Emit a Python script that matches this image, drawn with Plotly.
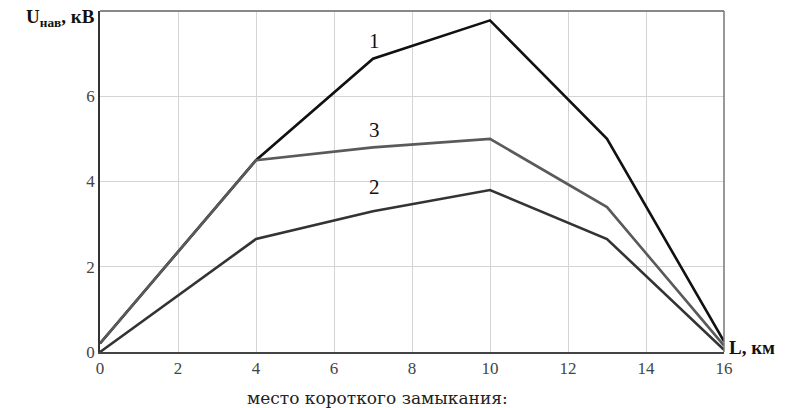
import plotly.graph_objects as go

x_km = [0, 4, 7, 10, 13, 16]
curve1 = [0.2, 4.5, 6.88, 7.78, 5.0, 0.25]
curve2 = [0.0, 2.65, 3.3, 3.8, 2.65, 0.05]
curve3 = [0.2, 4.5, 4.8, 5.0, 3.4, 0.15]
x_ticks = [0, 2, 4, 6, 8, 10, 12, 14, 16]
y_ticks = [0, 2, 4, 6]
labels = [("1", 7.05, 7.29), ("3", 7.05, 5.22), ("2", 7.05, 3.86)]

fig = go.Figure()
fig.add_trace(go.Scatter(x=x_km, y=curve1, mode="lines", line=dict(color="#111111", width=2.6), showlegend=False))
fig.add_trace(go.Scatter(x=x_km, y=curve3, mode="lines", line=dict(color="#5a5a5a", width=2.6), showlegend=False))
fig.add_trace(go.Scatter(x=x_km, y=curve2, mode="lines", line=dict(color="#333333", width=2.6), showlegend=False))

serif = "Liberation Serif, Times New Roman, serif"
for t, lx, ly in labels:
    fig.add_annotation(x=lx, y=ly, text=t, showarrow=False, xanchor="center", yanchor="middle",
                       font=dict(family=serif, size=21, color="#111111"))

fig.add_annotation(xref="paper", yref="paper", x=-0.005, y=0.98, xanchor="right", yanchor="middle",
                   text="<b>U</b><sub><b>нав</b></sub><b>, кВ</b>", showarrow=False,
                   font=dict(family=serif, size=19, color="#111111"))
fig.add_annotation(xref="paper", yref="paper", x=1.005, y=0.012, xanchor="left", yanchor="middle",
                   text="<b>L, км</b>", showarrow=False,
                   font=dict(family=serif, size=19, color="#111111"))
fig.add_annotation(xref="paper", yref="paper", x=0.444, y=-0.135, xanchor="center", yanchor="middle",
                   text="место короткого замыкания:", showarrow=False,
                   font=dict(family="DejaVu Serif, serif", size=17, color="#222222"))

# top and right borders
fig.add_shape(type="line", xref="paper", yref="paper", x0=0, x1=1, y0=1, y1=1, line=dict(color="#888888", width=2))
fig.add_shape(type="line", xref="paper", yref="paper", x0=1, x1=1, y0=0, y1=1, line=dict(color="#777777", width=1.5))

fig.update_xaxes(range=[0, 16], tickvals=x_ticks, showgrid=True, gridcolor="#d4d4d4", gridwidth=1,
                 showline=True, linecolor="#444444", linewidth=1.5, zeroline=False,
                 tickfont=dict(family=serif, size=17, color="#444444"), ticks="")
fig.update_yaxes(range=[0, 8], tickvals=y_ticks, showgrid=True, gridcolor="#d4d4d4", gridwidth=1,
                 showline=True, linecolor="#333333", linewidth=1.5, zeroline=False,
                 tickfont=dict(family=serif, size=17, color="#444444"), ticks="")

fig.update_layout(width=785, height=408, margin=dict(l=100, r=61, t=11, b=56),
                  plot_bgcolor="white", paper_bgcolor="white")
fig.write_html("out.html")
